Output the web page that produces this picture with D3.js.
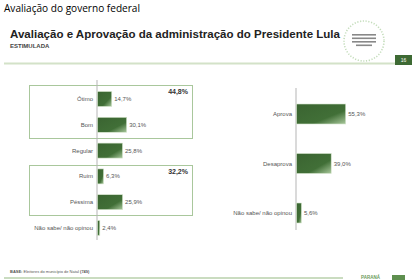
<!DOCTYPE html>
<html>
<head>
<meta charset="utf-8">
<script src="https://cdn.jsdelivr.net/npm/d3@7"></script>
<style>
body { margin: 0; background: #fff; }
svg { display: block; }
</style>
</head>
<body>
<svg width="420" height="280"></svg>
<script>
// avaliação (left) and aprovação (right)
var avalCats = ['Ótimo', 'Bom', 'Regular', 'Ruim', 'Péssima', 'Não sabe/ não opinou'];
var avalVals = [14.7, 30.1, 25.8, 6.3, 25.9, 2.4];
var aprovCats = ['Aprova', 'Desaprova', 'Não sabe/ não opinou'];
var aprovVals = [55.3, 39.0, 5.6];
var groupTotals = ['44,8%', '32,2%'];

var fmt = function(v) { return d3.format('.1f')(v).replace('.', ',') + '%'; };

var svg = d3.select('svg');
var green = '#3e6a34';

var defs = svg.append('defs');
var grad = defs.append('linearGradient').attr('id', 'bar')
    .attr('x1', '0').attr('y1', '0').attr('x2', '1').attr('y2', '1');
grad.append('stop').attr('offset', '0%').attr('stop-color', '#3a6431');
grad.append('stop').attr('offset', '65%').attr('stop-color', '#416f37');
grad.append('stop').attr('offset', '100%').attr('stop-color', '#a9c89c');

// header
svg.append('text').attr('x', 4).attr('y', 12)
    .style('font-family', 'Open Sans, sans-serif').style('font-size', '10px')
    .attr('textLength', 136).attr('lengthAdjust', 'spacingAndGlyphs')
    .text('Avaliação do governo federal');
svg.append('text').attr('x', 10).attr('y', 38)
    .style('font-family', 'Liberation Sans, Arial, sans-serif').style('font-size', '11.5px')
    .style('font-weight', 'bold').attr('fill', '#222')
    .attr('textLength', 330).attr('lengthAdjust', 'spacingAndGlyphs')
    .text('Avaliação e Aprovação da administração do Presidente Lula');
svg.append('text').attr('x', 10).attr('y', 48)
    .style('font-family', 'Liberation Sans, Arial, sans-serif').style('font-size', '6px')
    .style('font-weight', 'bold').attr('fill', '#444')
    .text('ESTIMULADA');
svg.append('line').attr('x1', 4).attr('x2', 406).attr('y1', 63.5).attr('y2', 63.5)
    .attr('stroke', '#d3e2c8').attr('stroke-width', 2);

// logo
var logo = svg.append('g').attr('transform', 'translate(364,41)');
logo.append('circle').attr('r', 20).attr('fill', 'none')
    .attr('stroke', '#c4ddbb').attr('stroke-width', 1.6).attr('stroke-dasharray', '1.2,1.6');
[-7, -3.5, 0, 3.5].forEach(function(dy, i) {
  logo.append('rect').attr('x', i == 3 ? -8 : -12).attr('y', dy).attr('width', i == 3 ? 16 : 24)
      .attr('height', 1.6).attr('fill', '#888');
});
svg.append('rect').attr('x', 395).attr('y', 55).attr('width', 17).attr('height', 10).attr('fill', green);
svg.append('text').attr('x', 403.5).attr('y', 62).attr('text-anchor', 'middle')
    .style('font-family', 'Liberation Sans, Arial, sans-serif').style('font-size', '5px')
    .attr('fill', '#fff').text('16');

// group boxes (left)
var boxes = [[85, 138], [165, 215]];
boxes.forEach(function(b, i) {
  svg.append('rect').attr('x', 29.5).attr('y', b[0] + 0.5).attr('width', 163).attr('height', b[1] - b[0])
      .attr('fill', 'none').attr('stroke', '#a9c79c').attr('stroke-width', 1);
  svg.append('text').attr('x', 188).attr('y', b[0] + 9).attr('text-anchor', 'end')
      .style('font-family', 'Liberation Sans, Arial, sans-serif').style('font-size', '7px')
      .style('font-weight', 'bold').attr('fill', '#333').text(groupTotals[i]);
});

function panel(cats, vals, x0, pxPerPct, yCenters, bh, axisY) {
  var x = d3.scaleLinear().domain([0, 100]).range([x0, x0 + 100 * pxPerPct]);
  var y = d3.scalePoint().domain(cats).range([yCenters[0], yCenters[1]]);
  var g = svg.append('g');
  g.append('line').attr('x1', x0).attr('x2', x0).attr('y1', axisY[0]).attr('y2', axisY[1])
      .attr('stroke', '#b5b5b5').attr('stroke-width', 1);
  var rows = g.selectAll('g.row').data(cats).enter().append('g').attr('class', 'row');
  rows.append('rect')
      .attr('x', x(0) + 0.5)
      .attr('y', function(d) { return y(d) - bh / 2; })
      .attr('width', function(d, i) { return x(vals[i]) - x(0); })
      .attr('height', bh)
      .attr('fill', 'url(#bar)').attr('stroke', '#d7e6cf').attr('stroke-width', 0.6);
  rows.append('text')
      .attr('x', x0 - 4).attr('y', function(d) { return y(d) + 2; })
      .attr('text-anchor', 'end')
      .style('font-family', 'Liberation Sans, Arial, sans-serif').style('font-size', '6px')
      .attr('fill', '#555').text(function(d) { return d; });
  rows.append('text')
      .attr('x', function(d, i) { return x(vals[i]) + 3; })
      .attr('y', function(d) { return y(d) + 2; })
      .style('font-family', 'Liberation Sans, Arial, sans-serif').style('font-size', '6px')
      .attr('fill', '#555').text(function(d, i) { return fmt(vals[i]); });
}

panel(avalCats, avalVals, 97, 0.97, [99, 228], 15, [80, 240]);
panel(aprovCats, aprovVals, 296, 0.89, [114, 213], 20, [88, 230]);

// footer
svg.append('text').attr('x', 10).attr('y', 273)
    .style('font-family', 'Liberation Sans, Arial, sans-serif').style('font-size', '4px')
    .attr('fill', '#555')
    .html('<tspan font-weight="bold">BASE:</tspan> Eleitores do município de Natal <tspan font-weight="bold">(749)</tspan>');
svg.append('line').attr('x1', 4).attr('x2', 343).attr('y1', 278).attr('y2', 278)
    .attr('stroke', '#b9d1ab').attr('stroke-width', 1.5);
svg.append('text').attr('x', 361).attr('y', 279)
    .style('font-family', 'Liberation Sans, Arial, sans-serif').style('font-size', '4.5px')
    .style('font-weight', 'bold').attr('fill', '#6a9a58').text('PARANÁ');
svg.append('rect').attr('x', 392).attr('y', 275).attr('width', 13).attr('height', 5).attr('fill', '#5e8f4f');
</script>
</body>
</html>
